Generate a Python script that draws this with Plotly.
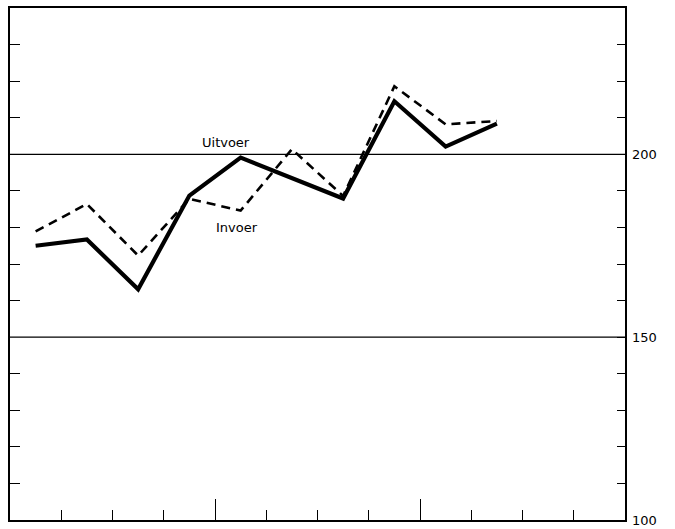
import plotly.graph_objects as go

# Quarterly index figures (12 quarters on the axis, 10 observed)
quarters = [0.5, 1.5, 2.5, 3.5, 4.5, 5.5, 6.5, 7.5, 8.5, 9.5]
uitvoer = [175.0, 176.7, 163.1, 188.7, 199.1, 193.5, 187.9, 214.5, 202.1, 208.4]
invoer = [178.9, 186.4, 172.3, 187.8, 184.6, 201.4, 188.6, 218.6, 208.2, 209.1]

quarter_ticks = [1, 2, 3, 4, 5, 6, 7, 8, 9, 10, 11]
year_ticks = [4, 8]
minor_levels = [110, 120, 130, 140, 160, 170, 180, 190, 210, 220, 230]
labelled_levels = [100, 150, 200]
reference_levels = [150, 200]

FONT = "DejaVu Sans"

fig = go.Figure()

fig.add_trace(go.Scatter(
    x=quarters, y=invoer, mode="lines", name="Invoer",
    line=dict(color="black", width=2.6, dash="9px,6px"),
))
fig.add_trace(go.Scatter(
    x=quarters, y=uitvoer, mode="lines", name="Uitvoer",
    line=dict(color="black", width=4.2),
))

for lvl in reference_levels:
    fig.add_shape(type="line", xref="paper", x0=0, x1=1, yref="y", y0=lvl, y1=lvl,
                  line=dict(color="black", width=1.2), layer="below")

fig.add_annotation(x=4.22, y=203.3, text="Uitvoer", showarrow=False,
                   font=dict(family=FONT, size=13, color="black"))
fig.add_annotation(x=4.42, y=180.1, text="Invoer", showarrow=False,
                   font=dict(family=FONT, size=13, color="black"))

axis_common = dict(showgrid=False, zeroline=False, linecolor="black", linewidth=1.5,
                   tickcolor="black", tickwidth=1.3, automargin=False)

fig.update_layout(
    width=675, height=529,
    margin=dict(l=10, r=50, t=8, b=9, autoexpand=False),
    paper_bgcolor="white", plot_bgcolor="white",
    showlegend=False,
    font=dict(family=FONT, color="black"),
    xaxis=dict(range=[0, 12], tickmode="array", tickvals=quarter_ticks,
               ticks="inside", ticklen=10, showticklabels=False,
               showline=True, mirror=True, **axis_common),
    xaxis2=dict(range=[0, 12], overlaying="x", side="bottom", tickmode="array",
                tickvals=year_ticks, ticks="inside", ticklen=21,
                showticklabels=False, showline=False, showgrid=False,
                zeroline=False, tickcolor="black", tickwidth=1.3, automargin=False),
    yaxis=dict(range=[100, 240], tickmode="array", tickvals=minor_levels,
               ticks="inside", ticklen=10, showticklabels=False,
               showline=True, mirror=True, **axis_common),
    yaxis2=dict(range=[100, 240], overlaying="y", side="right", anchor="x",
                tickmode="array",
                tickvals=minor_levels + labelled_levels,
                ticktext=[""] * len(minor_levels) + [str(v) for v in labelled_levels],
                ticks="inside", ticklen=8, showline=False, showgrid=False,
                zeroline=False, tickcolor="black", tickwidth=1.3, automargin=False,
                ticklabelstandoff=6, ticklabeloverflow="allow",
                tickfont=dict(family=FONT, size=13, color="black")),
)

# invisible helper traces to activate the secondary axes
fig.add_trace(go.Scatter(x=[None], y=[None], xaxis="x2", yaxis="y", showlegend=False,
                         hoverinfo="skip"))
fig.add_trace(go.Scatter(x=[None], y=[None], xaxis="x", yaxis="y2", showlegend=False,
                         hoverinfo="skip"))

fig.write_html("out.html")
